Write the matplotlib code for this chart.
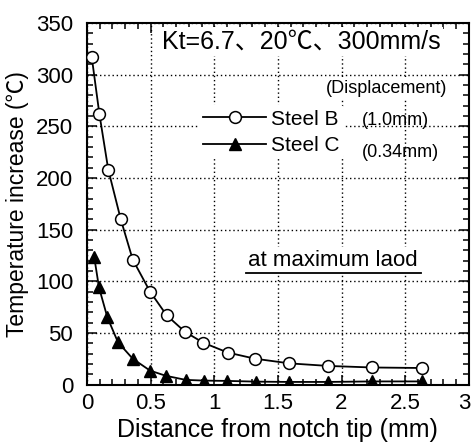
import matplotlib
matplotlib.use("Agg")
import matplotlib.pyplot as plt
import matplotlib.transforms as mtransforms
from matplotlib.ticker import MultipleLocator

plt.rcParams['font.family'] = ['Liberation Sans', 'Noto Sans CJK JP', 'DejaVu Sans']

# data
dist_b = [0.037, 0.097, 0.167, 0.265, 0.359, 0.495, 0.626, 0.77, 0.913, 1.105,
          1.32, 1.59, 1.895, 2.24, 2.63]
temp_b = [317, 262, 208, 160, 121, 90, 67, 51, 40.5, 31,
          25, 20.5, 18, 16.5, 16]
dist_c = [0.057, 0.094, 0.16, 0.243, 0.359, 0.495, 0.618, 0.775, 0.92, 1.10,
          1.33, 1.59, 1.89, 2.24, 2.63]
temp_c = [123, 94, 65, 41, 25, 13.5, 8.5, 4.5, 3.8, 3.5,
          2.8, 2.5, 2.5, 3, 3]
x_ticks = [0, 0.5, 1, 1.5, 2, 2.5, 3]
x_ticklabels = ['0', '0.5', '1', '1.5', '2', '2.5', '3']

fig = plt.figure(figsize=(4.73, 4.43), dpi=100)
ax = fig.add_axes([0.184, 0.132, 0.807, 0.816])

ax.plot(dist_b, temp_b, color='black', lw=1.3, marker='o', ms=8.5,
        mfc='white', mec='black', mew=1.1, label='Steel B', zorder=3)
ax.plot(dist_c, temp_c, color='black', lw=1.3, marker='^', ms=8,
        mfc='black', mec='black', label='Steel C', zorder=3)

ax.set_xlim(0, 3)
ax.set_ylim(0, 350)
ax.xaxis.set_minor_locator(MultipleLocator(0.1))
ax.yaxis.set_major_locator(MultipleLocator(50))
ax.yaxis.set_minor_locator(MultipleLocator(10))
ax.set_xticks(x_ticks)
ax.set_xticklabels(x_ticklabels)
ax.tick_params(which='both', direction='in', top=True, right=True, labelsize=16,
               width=1.1)
ax.tick_params(which='major', length=7)
ax.tick_params(axis='x', which='major', pad=6)
ax.tick_params(axis='y', which='major', pad=10)
ax.tick_params(which='minor', length=4)
for s in ax.spines.values():
    s.set_linewidth(1.5)

# keep the last x tick label inside the figure
last = ax.get_xticklabels()[-1]
last.set_transform(last.get_transform() +
                   mtransforms.ScaledTranslation(-4 / 100, 0, fig.dpi_scale_trans))

ax.grid(True, which='major', color='black', linestyle=(0, (1, 2)), lw=1.0)
ax.set_axisbelow(True)

ax.set_xlabel('Distance from notch tip (mm)', fontsize=18)
ax.set_ylabel('Temperature increase (℃)', fontsize=16.5)
ax.xaxis.set_label_coords(0.5, -0.126)
ax.yaxis.set_label_coords(-0.183, 0.5)
ax.xaxis.label.set_va('center')
ax.yaxis.label.set_va('center')

wbox = dict(facecolor='white', edgecolor='none', pad=2)
ax.text(0.196, 0.93, 'Kt=6.7、20℃、300mm/s', transform=ax.transAxes,
        fontsize=18, ha='left', va='baseline', bbox=wbox, zorder=4)
ax.text(0.945, 0.807, '(Displacement)', transform=ax.transAxes,
        fontsize=13, ha='right', va='baseline', bbox=wbox, zorder=4)

leg = ax.legend(loc='upper left', bbox_to_anchor=(0.294, 0.772), fontsize=15,
                frameon=True, handlelength=3.0, handletextpad=0.25,
                labelspacing=0.35, borderpad=0.2, borderaxespad=0)
leg.get_frame().set_facecolor('white')
leg.get_frame().set_edgecolor('none')
leg.get_frame().set_alpha(1)
leg.set_zorder(4)

ax.text(0.72, 0.717, '(1.0mm)', transform=ax.transAxes,
        fontsize=13, ha='left', va='baseline', zorder=5)
ax.text(0.72, 0.63, '(0.34mm)', transform=ax.transAxes,
        fontsize=13, ha='left', va='baseline', zorder=5)

note = ax.text(1.93, 115, 'at maximum laod',
               fontsize=16, ha='center', va='baseline', bbox=wbox, zorder=4)

# underline the note
fig.canvas.draw()
bb = note.get_window_extent().transformed(ax.transAxes.inverted())
ax.plot([bb.x0 - 0.005, bb.x1 + 0.01], [bb.y0 - 0.005, bb.y0 - 0.005],
        transform=ax.transAxes, color='black', lw=1.3, zorder=5)

fig.savefig('out.png', dpi=100)
